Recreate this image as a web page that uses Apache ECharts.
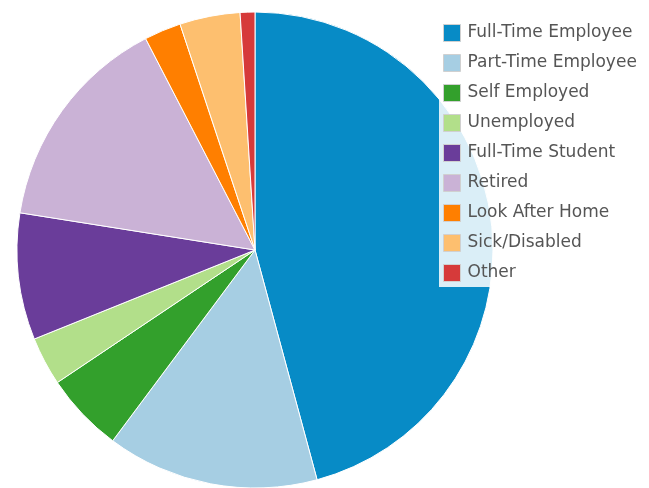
<!DOCTYPE html>
<html lang="en">
<head>
    <meta charset="UTF-8">
    <title>Employment status</title>
    <script src="https://cdn.jsdelivr.net/npm/echarts@6/dist/echarts.min.js"></script>
    <style>
        body { margin: 0; background: #fff; }
    </style>
</head>
<body>
    <div id="main" style="width: 649px;height: 488px;"></div>
    <script>
        // categories and shares (%)
        const categories = ['Full-Time Employee', 'Part-Time Employee', 'Self Employed', 'Unemployed',
            'Full-Time Student', 'Retired', 'Look After Home', 'Sick/Disabled', 'Other'];
        const shares = [45.8, 14.4, 5.4, 3.3, 8.6, 14.9, 2.5, 4.1, 1.0];
        const colors = ['#078bc6', '#a6cee3', '#33a02c', '#b2df8a', '#6a3d9a', '#cab2d6', '#ff7f00', '#fdbf6f', '#d63a3a'];

        let myChart = echarts.init(document.getElementById('main'));

        let option = {
            animation: false,
            color: colors,
            legend: {
                orient: 'vertical',
                left: 439,
                top: 16,
                padding: [8, 40, 5, 4],
                itemWidth: 17,
                itemHeight: 17,
                itemGap: 12,
                icon: 'rect',
                backgroundColor: 'rgba(255,255,255,0.85)',
                itemStyle: { borderColor: '#d0d0d0', borderWidth: 1 },
                textStyle: {
                    fontFamily: 'DejaVu Sans', fontSize: 17, lineHeight: 16,
                    color: '#555', padding: [0, 0, 0, 2]
                },
                data: categories
            },
            series: [{
                type: 'pie',
                center: [255, 250],
                radius: 238,
                startAngle: 90,
                clockwise: true,
                label: { show: false },
                labelLine: { show: false },
                itemStyle: { borderColor: '#fff', borderWidth: 1 },
                data: categories.map((c, i) => ({ name: c, value: shares[i] }))
            }]
        };
        myChart.setOption(option);
    </script>
</body>
</html>
